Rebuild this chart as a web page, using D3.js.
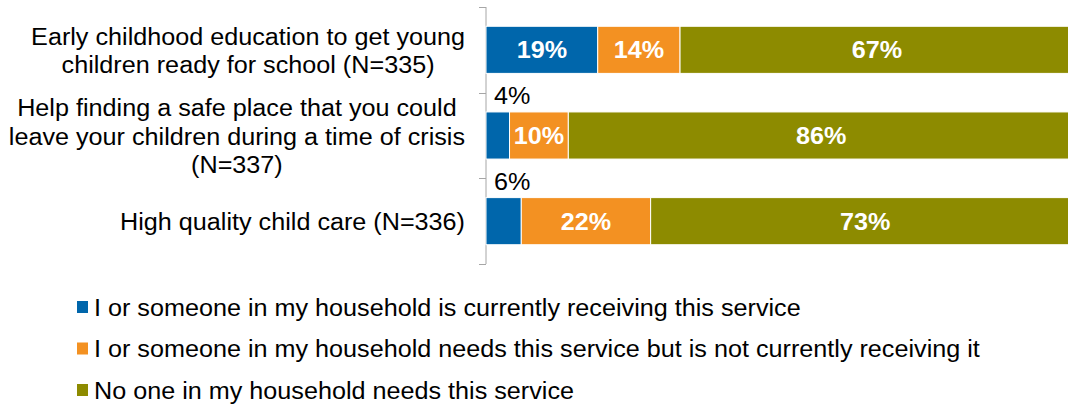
<!DOCTYPE html>
<html>
<head>
<meta charset="utf-8">
<script src="https://cdn.jsdelivr.net/npm/d3@7/dist/d3.min.js"></script>
<style>
  html, body { margin: 0; padding: 0; background: #fff; }
  svg { display: block; font-family: "Liberation Sans", Arial, sans-serif; }
</style>
</head>
<body>
<svg id="chart" width="1068" height="404"></svg>
<script>
// Survey items (each label split into its wrapped lines)
const categories = [
  ["Early childhood education to get young", "children ready for school (N=335)"],
  ["Help finding a safe place that you could", "leave your children during a time of crisis", "(N=337)"],
  ["High quality child care (N=336)"]
];
const seriesNames = [
  "I or someone in my household is currently receiving this service",
  "I or someone in my household needs this service but is not currently receiving it",
  "No one in my household needs this service"
];
const receiving = [19, 4, 6];
const needsNotReceiving = [14, 10, 22];
const noNeed = [67, 86, 73];
const colors = ["#0066AB", "#F39122", "#8D8B00"];

const svg = d3.select("#chart");
const plotLeft = 486, plotTop = 7, plotBottom = 264;
const FS = 23;      // font size
const SX = 1.095;   // horizontal text stretch

// Places a text whose glyphs are slightly widened around its anchor point
function addText(parent, x, yPos, str, opts = {}) {
  return parent.append("text")
    .attr("transform", `translate(${x},${yPos}) scale(${SX},1)`)
    .attr("font-size", opts.size || FS)
    .attr("font-weight", opts.bold ? "bold" : "normal")
    .attr("text-anchor", opts.anchor || "start")
    .attr("fill", opts.fill || "#000")
    .text(str);
}

const rows = categories.map((c, i) => ({
  idx: i,
  lines: c,
  values: [receiving[i], needsNotReceiving[i], noNeed[i]]
}));

const y = d3.scaleBand()
  .domain(rows.map(r => r.idx))
  .range([plotTop, plotBottom])
  .paddingInner(0.45)
  .paddingOuter(0.225);

const x = d3.scaleLinear().domain([0, 100]).range([plotLeft, plotLeft + 588]);

// Category axis: vertical line with ticks at band boundaries
const axisG = svg.append("g");
axisG.append("line")
  .attr("x1", plotLeft).attr("x2", plotLeft)
  .attr("y1", plotTop).attr("y2", plotBottom)
  .attr("stroke", "#a6a6a6").attr("stroke-width", 1);
const step = (plotBottom - plotTop) / rows.length;
d3.range(rows.length + 1).forEach(k => {
  const ty = Math.round(plotTop + k * step) + 0.5;
  axisG.append("line")
    .attr("x1", plotLeft - 7).attr("x2", plotLeft)
    .attr("y1", ty).attr("y2", ty)
    .attr("stroke", "#a6a6a6").attr("stroke-width", 1);
});

// Stacked segments
rows.forEach(r => {
  let acc = 0;
  const segs = r.values.map((v, j) => {
    const s = { j, v, x0: acc, x1: acc + v };
    acc += v;
    return s;
  });
  const g = svg.append("g");
  g.selectAll("rect").data(segs).join("rect")
    .attr("x", d => x(d.x0))
    .attr("y", y(r.idx))
    .attr("width", d => x(d.x1) - x(d.x0))
    .attr("height", y.bandwidth())
    .attr("fill", d => colors[d.j])
    .attr("stroke", "#fff")
    .attr("stroke-width", 1);

  segs.forEach(d => {
    const w = x(d.x1) - x(d.x0);
    if (w > 40) {
      addText(g, (x(d.x0) + x(d.x1)) / 2, y(r.idx) + y.bandwidth() / 2 + 8.5,
        d.v + "%", { anchor: "middle", bold: true, fill: "#fff" });
    } else {
      addText(g, x(d.x0) + 8, y(r.idx) - 8, d.v + "%");
    }
  });

  // Category label, lines centred on each other, block right-aligned
  const lh = 28.5;
  const cy = y(r.idx) + y.bandwidth() / 2;
  const firstBase = cy - (r.lines.length - 1) * lh / 2 + 9;
  const labs = r.lines.map((t, k) =>
    addText(svg, 0, firstBase + k * lh, t, { anchor: "middle" }));
  const wMax = d3.max(labs, l => l.node().getBBox().width) * SX;
  labs.forEach((l, k) =>
    l.attr("transform", `translate(${465 - wMax / 2},${firstBase + k * lh}) scale(${SX},1)`));
});

// Legend
const legend = svg.append("g");
seriesNames.forEach((name, i) => {
  const baseY = 315.5 + i * 41.5;
  legend.append("rect")
    .attr("x", 77).attr("y", baseY - 14.5)
    .attr("width", 11).attr("height", 12)
    .attr("fill", colors[i]);
  addText(legend, 94, baseY, name);
});
</script>
</body>
</html>
